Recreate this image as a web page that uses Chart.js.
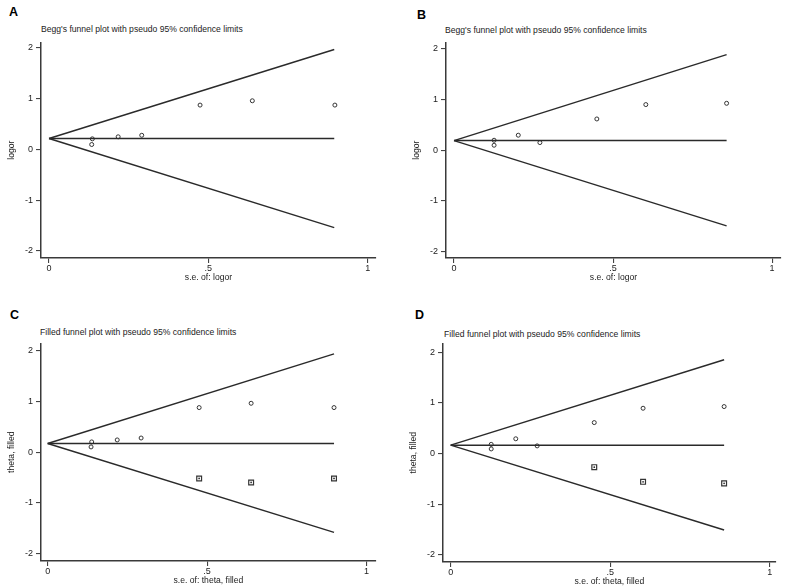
<!DOCTYPE html>
<html><head><meta charset="utf-8">
<script src="https://cdn.jsdelivr.net/npm/chart.js@4"></script>
<style>
html,body{margin:0;padding:0;background:#fff;overflow:hidden}
body{width:787px;height:587px;position:relative;font-family:'Liberation Sans',Arial,sans-serif}
canvas{position:absolute}
.lbl{position:absolute;font-weight:bold;font-size:12.5px;line-height:12.5px;color:#000;white-space:nowrap}
.ttl{position:absolute;font-size:8.6px;line-height:8.6px;color:#222;white-space:nowrap}
</style></head><body>
<div class="lbl" style="left:9px;top:6px">A</div>
<div class="lbl" style="left:417px;top:9px">B</div>
<div class="lbl" style="left:10px;top:309px">C</div>
<div class="lbl" style="left:415px;top:309px">D</div>
<div class="ttl" style="left:41px;top:25px">Begg's funnel plot with pseudo 95% confidence limits</div>
<div class="ttl" style="left:445px;top:25.5px">Begg's funnel plot with pseudo 95% confidence limits</div>
<div class="ttl" style="left:40px;top:328px">Filled funnel plot with pseudo 95% confidence limits</div>
<div class="ttl" style="left:444px;top:329.5px">Filled funnel plot with pseudo 95% confidence limits</div>
<script>
// tick labels
const xTickValues = [0, 0.5, 1];
const xTickLabels = ['0', '.5', '1'];
const yTickValues = [-2, -1, 0, 1, 2];
const yTickLabels = ['-2', '-1', '0', '1', '2'];

// Panel A: Begg's funnel plot
const A_se    = [0.134, 0.136, 0.217, 0.291, 0.474, 0.638, 0.897];
const A_logor = [0.098, 0.210, 0.250, 0.280, 0.875, 0.960, 0.875];
const A_center = 0.216, A_seEnd = 0.895, A_upperEnd = 1.97, A_lowerEnd = -1.54;

// Panel B: Begg's funnel plot
const B_se    = [0.126, 0.126, 0.202, 0.270, 0.449, 0.603, 0.857];
const B_logor = [0.098, 0.196, 0.295, 0.150, 0.615, 0.898, 0.923];
const B_center = 0.19, B_seEnd = 0.857, B_upperEnd = 1.88, B_lowerEnd = -1.49;

// Panel C: filled funnel plot
const C_se    = [0.136, 0.138, 0.218, 0.293, 0.475, 0.638, 0.898];
const C_theta = [0.104, 0.203, 0.242, 0.280, 0.880, 0.965, 0.880];
const C_fillSe    = [0.475, 0.638, 0.898];
const C_fillTheta = [-0.518, -0.597, -0.518];
const C_center = 0.171, C_seEnd = 0.898, C_upperEnd = 1.94, C_lowerEnd = -1.58;

// Panel D: filled funnel plot
const D_se    = [0.127, 0.127, 0.204, 0.271, 0.450, 0.603, 0.857];
const D_theta = [0.090, 0.180, 0.290, 0.150, 0.610, 0.893, 0.926];
const D_fillSe    = [0.450, 0.603, 0.857];
const D_fillTheta = [-0.27, -0.56, -0.59];
const D_center = 0.164, D_seEnd = 0.857, D_upperEnd = 1.85, D_lowerEnd = -1.51;

Chart.defaults.font.family = "'Liberation Sans', Arial, sans-serif";
Chart.defaults.color = '#222';

function pts(xs, ys) { return xs.map((x, i) => ({x: x, y: ys[i]})); }

function makePanel(p) {
  const yW = 35, xH = 25, padT = 8, padR = 5;
  const cl = p.area.left - yW, ct = p.area.top - padT;
  const cw = p.area.right + padR - cl, ch = p.area.bottom + xH - ct;
  const cv = document.createElement('canvas');
  cv.width = cw; cv.height = ch;
  cv.style.left = cl + 'px'; cv.style.top = ct + 'px';
  cv.style.width = cw + 'px'; cv.style.height = ch + 'px';
  document.body.appendChild(cv);

  const lineDs = (data) => ({type: 'scatter', data: data, showLine: true, pointRadius: 0,
    borderColor: '#2a2a2a', borderWidth: 1.4, fill: false});
  const datasets = [
    lineDs([{x: 0, y: p.center}, {x: p.seEnd, y: p.upperEnd}]),
    lineDs([{x: 0, y: p.center}, {x: p.seEnd, y: p.center}]),
    lineDs([{x: 0, y: p.center}, {x: p.seEnd, y: p.lowerEnd}]),
    {type: 'scatter', data: pts(p.se, p.theta), pointStyle: 'circle', pointRadius: 2,
      borderWidth: 1, borderColor: '#333', backgroundColor: 'rgba(0,0,0,0)'}
  ];
  if (p.fillSe) {
    datasets.push({type: 'scatter', data: pts(p.fillSe, p.fillTheta), pointStyle: 'rect', pointRadius: 3.4,
      borderWidth: 1.2, borderColor: '#333', backgroundColor: 'rgba(0,0,0,0)'});
    datasets.push({type: 'scatter', data: pts(p.fillSe, p.fillTheta), pointStyle: 'circle', pointRadius: 0.9,
      borderWidth: 0, backgroundColor: '#333'});
  }
  const tickFont = {size: 9};
  new Chart(cv, {
    type: 'scatter',
    data: {datasets: datasets},
    options: {
      responsive: false, animation: false, devicePixelRatio: 1,
      layout: {padding: {top: padT, right: padR, left: 0, bottom: 0}},
      plugins: {legend: {display: false}, tooltip: {enabled: false}},
      scales: {
        x: {
          type: 'linear', position: 'bottom', min: p.xr[0], max: p.xr[1],
          afterBuildTicks: s => { s.ticks = xTickValues.map(v => ({value: v})); },
          afterFit: s => { s.height = xH; },
          ticks: {font: tickFont, color: '#222', padding: 0, maxRotation: 0,
            callback: (v) => xTickLabels[xTickValues.indexOf(v)]},
          grid: {display: true, drawOnChartArea: false, drawTicks: true, tickLength: 5, color: '#444', lineWidth: 1.1},
          border: {display: true, color: '#3a3a3a', width: 1.5},
          title: {display: true, text: p.xTitle, font: {size: 8.6}, color: '#222', padding: 0}
        },
        y: {
          type: 'linear', position: 'left', min: p.yr[0], max: p.yr[1],
          afterBuildTicks: s => { s.ticks = yTickValues.map(v => ({value: v})); },
          afterFit: s => { s.width = yW; },
          ticks: {font: tickFont, color: '#222', padding: 3,
            callback: (v) => yTickLabels[yTickValues.indexOf(v)]},
          grid: {display: true, drawOnChartArea: false, drawTicks: true, tickLength: 5, color: '#444', lineWidth: 1.1},
          border: {display: true, color: '#3a3a3a', width: 1.5},
          title: {display: true, text: p.yTitle, font: {size: 8.6}, color: '#222', padding: 0}
        }
      }
    }
  });
}

makePanel({area: {left: 41, right: 376, top: 42, bottom: 258}, xr: [-0.0251, 1.026], yr: [-2.138, 2.110],
  se: A_se, theta: A_logor, center: A_center, seEnd: A_seEnd, upperEnd: A_upperEnd, lowerEnd: A_lowerEnd,
  xTitle: 's.e. of: logor', yTitle: 'logor'});
makePanel({area: {left: 446, right: 781, top: 42, bottom: 258}, xr: [-0.0252, 1.028], yr: [-2.122, 2.122],
  se: B_se, theta: B_logor, center: B_center, seEnd: B_seEnd, upperEnd: B_upperEnd, lowerEnd: B_lowerEnd,
  xTitle: 's.e. of: logor', yTitle: 'logor'});
makePanel({area: {left: 41, right: 376, top: 343, bottom: 561}, xr: [-0.021, 1.029], yr: [-2.146, 2.146],
  se: C_se, theta: C_theta, fillSe: C_fillSe, fillTheta: C_fillTheta,
  center: C_center, seEnd: C_seEnd, upperEnd: C_upperEnd, lowerEnd: C_lowerEnd,
  xTitle: 's.e. of: theta, filled', yTitle: 'theta, filled'});
makePanel({area: {left: 443, right: 776, top: 343, bottom: 562}, xr: [-0.0241, 1.019], yr: [-2.142, 2.173],
  se: D_se, theta: D_theta, fillSe: D_fillSe, fillTheta: D_fillTheta,
  center: D_center, seEnd: D_seEnd, upperEnd: D_upperEnd, lowerEnd: D_lowerEnd,
  xTitle: 's.e. of: theta, filled', yTitle: 'theta, filled'});
</script>
</body></html>
